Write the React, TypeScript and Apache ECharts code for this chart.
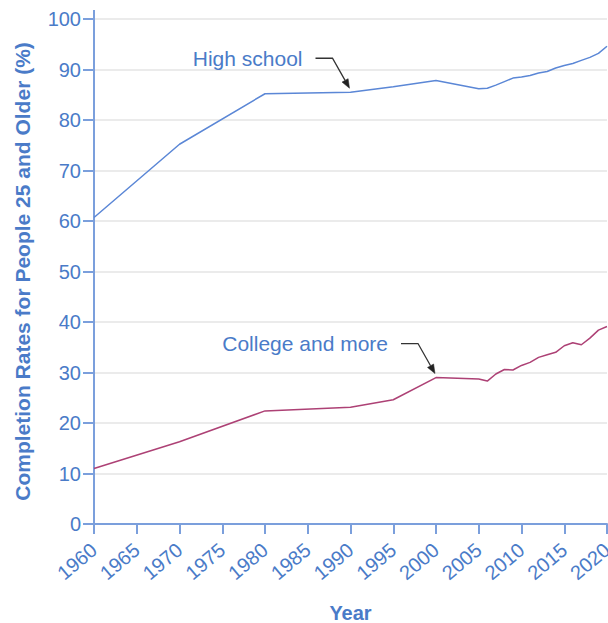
import React, { useEffect, useRef } from "react";
import * as echarts from "echarts";

const years = [1960, 1970, 1980, 1990, 1995, 2000, 2005, 2006, 2007, 2008, 2009, 2010, 2011, 2012, 2013, 2014, 2015, 2016, 2017, 2018, 2019, 2020];
const highSchool = [60.7, 75.2, 85.2, 85.5, 86.6, 87.8, 86.2, 86.3, 86.9, 87.6, 88.3, 88.5, 88.8, 89.3, 89.6, 90.3, 90.8, 91.2, 91.8, 92.4, 93.2, 94.6];
const college = [11.0, 16.3, 22.4, 23.1, 24.6, 29.0, 28.7, 28.3, 29.7, 30.6, 30.5, 31.4, 32.0, 33.0, 33.5, 34.0, 35.3, 35.9, 35.5, 36.8, 38.4, 39.1];

const seriesNames = ["High school", "College and more"];
const annotationAnchors = [
  { label: "High school", year: 1990, value: 85.5 },
  { label: "College and more", year: 2000, value: 29.0 },
];

const FONT = "'Liberation Sans', Arial, Helvetica, sans-serif";
const TEXT_BLUE = "#4a7bc8";
const AXIS_BLUE = "#7b9fdc";

export default function App() {
  const ref = useRef<HTMLDivElement>(null);
  useEffect(() => {
    const chart = echarts.init(ref.current!, null, { renderer: "svg" });
    const option: any = {
      animation: false,
      backgroundColor: "#ffffff",
      textStyle: { fontFamily: FONT },
      grid: { left: 94, right: 1, top: 19, bottom: 99, containLabel: false, outerBoundsMode: "none" },
      xAxis: {
        type: "value",
        min: 1960,
        max: 2020,
        interval: 5,
        name: "Year",
        nameLocation: "middle",
        nameGap: 79,
        nameTextStyle: { color: TEXT_BLUE, fontSize: 20, fontWeight: "bold", fontFamily: FONT },
        axisLine: { show: true, lineStyle: { color: AXIS_BLUE, width: 2 } },
        axisTick: { show: true, length: 10, lineStyle: { color: AXIS_BLUE, width: 2 } },
        axisLabel: { color: TEXT_BLUE, fontSize: 20, rotate: 40, margin: 23, fontFamily: FONT, hideOverlap: false, formatter: (v: number) => String(v) },
        splitLine: { show: false },
      },
      yAxis: {
        type: "value",
        min: 0,
        max: 100,
        interval: 10,
        name: "Completion Rates for People 25 and Older (%)",
        nameLocation: "middle",
        nameGap: 61,
        nameTextStyle: { color: TEXT_BLUE, fontSize: 21, fontWeight: "bold", fontFamily: FONT },
        axisLine: { show: true, lineStyle: { color: AXIS_BLUE, width: 2 } },
        axisTick: { show: true, length: 11, lineStyle: { color: AXIS_BLUE, width: 2 } },
        axisLabel: { color: TEXT_BLUE, fontSize: 20, margin: 13, fontFamily: FONT },
        splitLine: { show: true, lineStyle: { color: "#e4e4e4", width: 1.5 } },
      },
      series: [
        {
          name: seriesNames[0],
          type: "line",
          data: years.map((y, i) => [y, highSchool[i]]),
          showSymbol: false,
          lineStyle: { color: "#5b87d6", width: 1.5 },
          z: 3,
        },
        {
          name: seriesNames[1],
          type: "line",
          data: years.map((y, i) => [y, college[i]]),
          showSymbol: false,
          lineStyle: { color: "#ad4175", width: 1.5 },
          z: 3,
        },
      ],
    };
    chart.setOption(option);

    const graphics: any[] = [];
    const top = chart.convertToPixel({ gridIndex: 0 } as any, [1960, 100]) as number[];
    graphics.push({
      type: "line",
      shape: { x1: top[0], y1: top[1] - 9, x2: top[0], y2: top[1] },
      style: { stroke: AXIS_BLUE, lineWidth: 2 },
      z: 5,
    });
    annotationAnchors.forEach((a) => {
      const p = chart.convertToPixel({ gridIndex: 0 } as any, [a.year, a.value]) as number[];
      const tip = [p[0] - 1, p[1] - 4];
      const bend = [tip[0] - 17, tip[1] - 30];
      const start = [tip[0] - 34, tip[1] - 30];
      const dx = tip[0] - bend[0];
      const dy = tip[1] - bend[1];
      const len = Math.sqrt(dx * dx + dy * dy);
      const ux = dx / len;
      const uy = dy / len;
      const headLen = 9;
      const headHalf = 3.5;
      const base = [tip[0] - ux * headLen, tip[1] - uy * headLen];
      graphics.push({
        type: "polyline",
        shape: { points: [start, bend, base] },
        style: { stroke: "#333333", lineWidth: 1.3, fill: "none" },
        z: 10,
      });
      graphics.push({
        type: "polygon",
        shape: {
          points: [
            tip,
            [base[0] - uy * headHalf, base[1] + ux * headHalf],
            [base[0] + uy * headHalf, base[1] - ux * headHalf],
          ],
        },
        style: { fill: "#222222", stroke: "#222222", lineWidth: 0.5 },
        z: 10,
      });
      graphics.push({
        type: "text",
        style: {
          text: a.label,
          x: tip[0] - 47,
          y: tip[1] - 30,
          align: "right",
          verticalAlign: "middle",
          fill: TEXT_BLUE,
          fontSize: 21,
          fontFamily: FONT,
        },
        z: 10,
      });
    });
    chart.setOption({ graphic: graphics });

    return () => chart.dispose();
  }, []);
  return <div ref={ref} style={{ position: "fixed", left: 0, top: 0, width: 608, height: 623 }} />;
}
